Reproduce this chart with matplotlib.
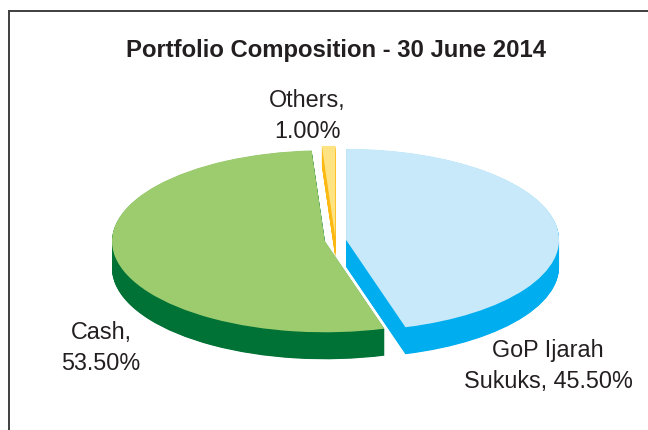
import matplotlib
matplotlib.use('Agg')
import matplotlib.pyplot as plt
import numpy as np

plt.rcParams['font.family'] = ['Liberation Sans', 'DejaVu Sans']

title = 'Portfolio Composition - 30 June 2014'
names = ['GoP Ijarah\nSukuks', 'Cash', 'Others']
shares = [45.50, 53.50, 1.00]
explode = [0.05, 0.05, 0.04]
top_colors = ['#C7E9F9', '#9CCC6E', '#FFE382']
side_colors = ['#00AEEF', '#007236', '#FDB913']

W, H = 648, 431
# pixel position of the pie centre and its radii
cx, cy, rx, ry = 335.5, 241.5, 213.0, 91.0
depth = 27
others_depth = 20

fig = plt.figure(figsize=(W / 100, H / 100), dpi=100)
ax = fig.add_axes([9 / W, 0, (W - 9) / W, (H - 12) / H])

# stack of pies for the 3d side, back to front
for d in np.arange(depth, 0, -0.5):
    wedges, _ = ax.pie(shares, explode=explode, colors=side_colors, startangle=90,
                       counterclock=False, center=(0, -d / ry),
                       wedgeprops={'linewidth': 0})
    if d > others_depth:
        wedges[2].set_visible(False)

ax.pie(shares, explode=explode, colors=top_colors, startangle=90,
       counterclock=False, wedgeprops={'linewidth': 0})

ax.set_aspect('auto')
ax.set_xlim((9 - cx) / rx, (W - cx) / rx)
ax.set_ylim((cy - H) / ry, (cy - 12) / ry)
ax.set_frame_on(True)
for side in ['right', 'bottom']:
    ax.spines[side].set_visible(False)
for side in ['left', 'top']:
    ax.spines[side].set_color('#3f3f3f')
    ax.spines[side].set_linewidth(1.4)

fig.text(336 / W, 1 - 51 / H, title, ha='center', va='center',
         fontsize=17.2, fontweight='bold', color='#231F20')

label_pos = [(548, 366), (101, 348), (307, 116)]
for name, share, (x, y) in zip(names, shares, label_pos):
    fig.text(x / W, 1 - y / H, '%s,\n%.2f%%' % (name, share) if name != names[0]
             else '%s, %.2f%%' % (name, share), ha='center', va='center',
             fontsize=16.8, color='#231F20', linespacing=1.4)

fig.savefig('out.png', dpi=100)
